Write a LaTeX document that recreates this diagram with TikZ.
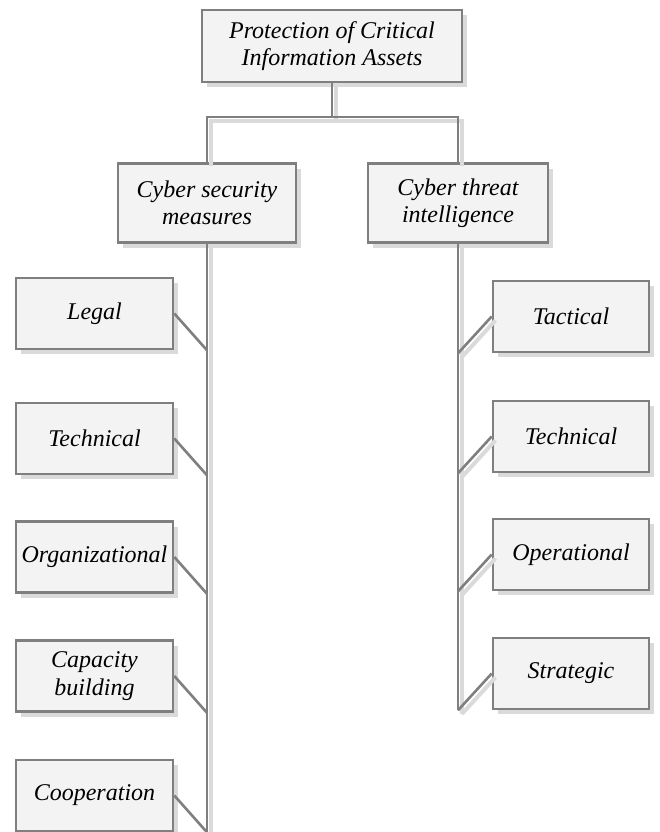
\documentclass[tikz,border=0pt]{standalone}
\usepackage{fontspec}
\setmainfont{Liberation Serif}
\usetikzlibrary{shadows}
\definecolor{boxfill}{HTML}{F3F3F3}
\definecolor{boxline}{HTML}{7F7F7F}
\definecolor{shadowgray}{HTML}{DADADA}
\begin{document}
\begin{tikzpicture}[x=1pt,y=-1pt,
  orgbox/.style={draw=boxline, line width=2.6pt, fill=boxfill, rectangle, inner sep=2pt,
    align=center, font=\fontsize{24}{27.5}\selectfont\itshape,
    drop shadow={shadow xshift=5pt, shadow yshift=-5pt, fill=shadowgray, opacity=1}},
  conn/.style={draw=boxline, line width=2.6pt},
  connshadow/.style={draw=shadowgray, line width=4pt, transform canvas={shift={(3.8pt,-3.8pt)}}}
]
\useasboundingbox (0,0) rectangle (660,832);

% nodes
\node[orgbox, minimum width=260pt, minimum height=72pt] (top) at (332,46) {Protection of Critical\\Information Assets};
\node[orgbox, minimum width=178pt, minimum height=79pt] (csm) at (207,203) {Cyber security\\measures};
\node[orgbox, minimum width=180pt, minimum height=79pt] (cti) at (458,203) {Cyber threat\\intelligence};

\node[orgbox, minimum width=157pt, minimum height=71pt] (legal) at (94.5,313.5) {Legal};
\node[orgbox, minimum width=157pt, minimum height=71pt] (ltech) at (94.5,438.5) {Technical};
\node[orgbox, minimum width=157pt, minimum height=71pt] (org) at (94.5,557) {Organizational};
\node[orgbox, minimum width=157pt, minimum height=71pt] (cap) at (94.5,676) {Capacity\\building};
\node[orgbox, minimum width=157pt, minimum height=71pt] (coop) at (94.5,795.5) {Cooperation};

\node[orgbox, minimum width=156pt, minimum height=71pt] (tact) at (571,316.5) {Tactical};
\node[orgbox, minimum width=156pt, minimum height=71pt] (rtech) at (571,436.5) {Technical};
\node[orgbox, minimum width=156pt, minimum height=71pt] (oper) at (571,554.5) {Operational};
\node[orgbox, minimum width=156pt, minimum height=71pt] (strat) at (571,673.5) {Strategic};

\coordinate (bus) at (332,117);
\coordinate (lend) at (207,832);

% connector shadows
\draw[connshadow] (top.south) -- (top.south |- bus);
\draw[connshadow] (csm.north) -- (csm.north |- bus) -- (cti.north |- bus) -- (cti.north);
\draw[connshadow] (csm.south) -- (lend);
\draw[connshadow] (cti.south) -- (cti.south |- strat.south);
\foreach \n in {tact,rtech,oper,strat}{
  \draw[connshadow] (cti.south |- \n.south) -- (\n.west);
}

% connectors
\draw[conn] (top.south) -- (top.south |- bus);
\draw[conn] (csm.north) -- (csm.north |- bus) -- (cti.north |- bus) -- (cti.north);
\draw[conn] (csm.south) -- (lend);
\foreach \n in {legal,ltech,org,cap,coop}{
  \draw[conn] (\n.east) -- (csm.south |- \n.south);
}
\draw[conn] (cti.south) -- (cti.south |- strat.south);
\foreach \n in {tact,rtech,oper,strat}{
  \draw[conn] (cti.south |- \n.south) -- (\n.west);
}
\end{tikzpicture}
\end{document}
